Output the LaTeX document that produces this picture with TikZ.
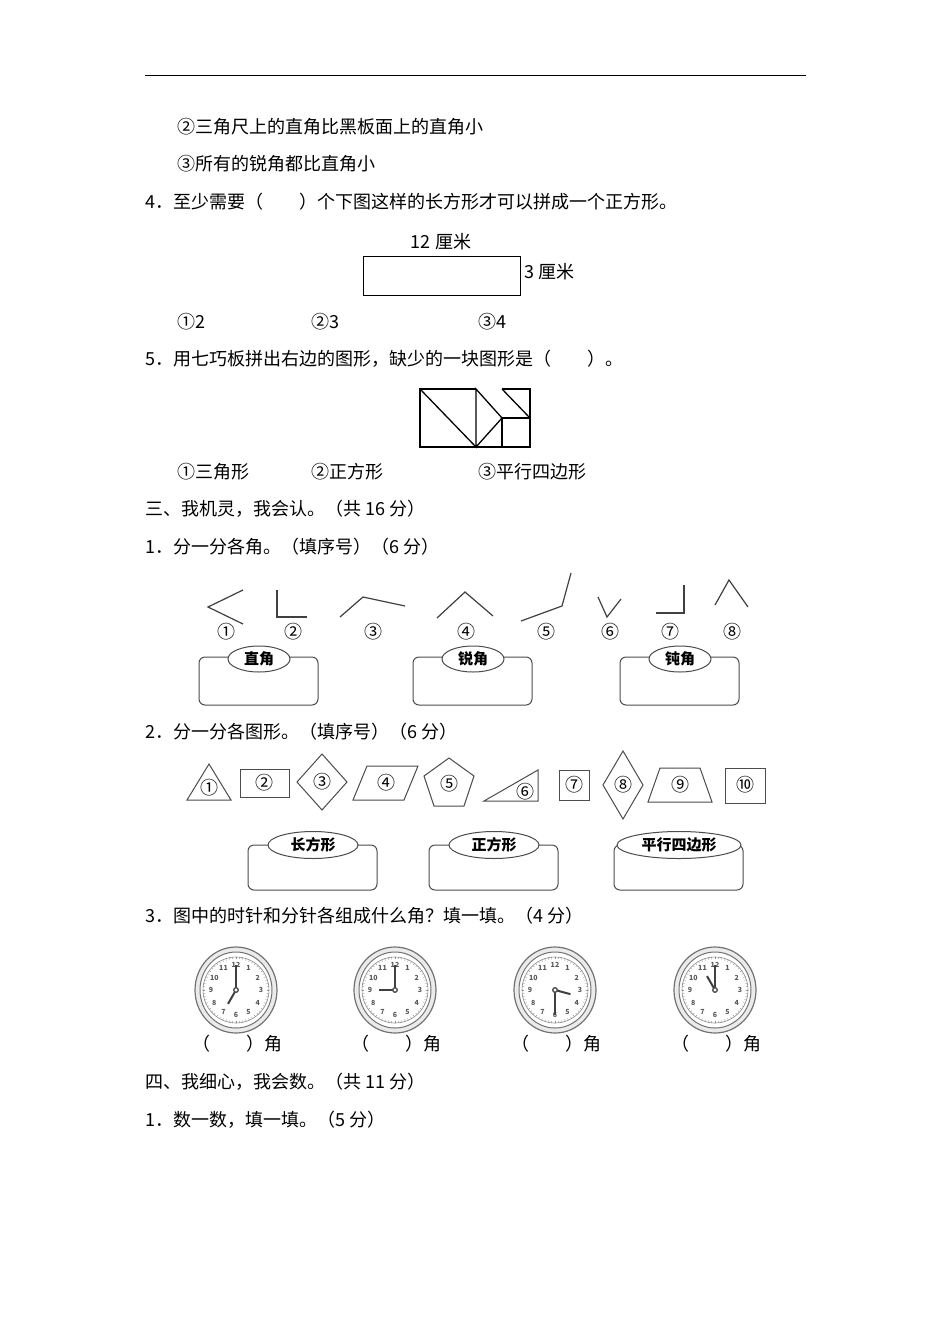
\documentclass[tikz,border=0pt]{standalone}
\usepackage{fontspec}
\setmainfont{Noto Sans CJK SC}
\usetikzlibrary{shapes.geometric}
\begin{document}
\begin{tikzpicture}[x=1pt,y=-1pt,
  txt/.style={anchor=west,inner sep=0pt,font=\fontsize{18}{20}\selectfont},
  lab/.style={inner sep=0pt,font=\fontsize{18}{20}\selectfont},
  ln/.style={draw=black!75,line width=1.2pt},
  shp/.style={draw=black!70,line width=1pt},
  pbox/.style={draw=black!70,line width=1pt,rounded corners=6pt,fill=white},
  oval/.style={draw=black!70,line width=1pt,ellipse,fill=white,inner sep=1pt,font=\fontsize{15}{17}\selectfont\bfseries}]
\useasboundingbox (0,0) rectangle (950,1344);
\fill[white] (0,0) rectangle (950,1344);
\draw[line width=1pt] (145,75) -- (806,75);
\node[txt] (l1) at (177,127) {②三角尺上的直角比黑板面上的直角小};
\node[txt] (l2) at (177,164) {③所有的锐角都比直角小};
\node[txt] (q4) at (145,202) {4．至少需要（\hspace{2em}）个下图这样的长方形才可以拼成一个正方形。};
\node[lab] (w12) at (441,242) {12 厘米};
\draw[line width=1pt] (363,256) rectangle (520,295);
\node[lab,anchor=west] (h3) at (524,272) {3 厘米};
\node[txt] (o1) at (177,322) {①2};
\node[txt] (o2) at (311,322) {②3};
\node[txt] (o3) at (478,322) {③4};
\node[txt] (q5) at (145,359) {5．用七巧板拼出右边的图形，缺少的一块图形是（\hspace{2em}）。};
% tangram
\draw[line width=1.3pt] (476,389) -- (420,389) -- (420,447) -- (530,447) -- (530,389) -- (502,389);
\draw[line width=1.3pt] (420,389) -- (476,447) -- (476,389) -- (502,418) -- (476,447);
\draw[line width=1.3pt] (502,447) -- (502,418) -- (530,418);
\draw[line width=1.3pt] (502,389) -- (530,418);
\node[txt] (p1) at (177,472) {①三角形};
\node[txt] (p2) at (311,472) {②正方形};
\node[txt] (p3) at (478,472) {③平行四边形};
\node[txt] (s3) at (145,509) {三、我机灵，我会认。（共 16 分）};
\node[txt] (s31) at (145,547) {1．分一分各角。（填序号）（6 分）};
% angles
\draw[ln] (243,590) -- (208,607) -- (243,624);
\draw[ln] (277,590) -- (277,617) -- (307,617);
\draw[ln] (340,617) -- (363,597) -- (405,606);
\draw[ln] (437,618) -- (465,592) -- (493,616);
\draw[ln] (521,621) -- (562,606) -- (571,573);
\draw[ln] (598,597) -- (607,617) -- (621,599);
\draw[ln] (656,613) -- (684,613) -- (684,585);
\draw[ln] (715,605) -- (729,580) -- (748,607);
\foreach \x/\t [count=\i] in {226/①,293/②,373/③,466/④,546/⑤,610/⑥,670/⑦,732/⑧}
  \node[lab] (a\i) at (\x,632) {\t};
\foreach \x/\t [count=\i] in {259/直角,473/锐角,680/钝角}{
  \draw[pbox] (\x-60,657) rectangle (\x+59,705);
  \node[oval,minimum width=62pt,minimum height=26pt] (b\i) at (\x,659) {\t};}
\node[txt] (s32) at (145,732) {2．分一分各图形。（填序号）（6 分）};
% shapes
\draw[shp] (187,800) -- (209,764) -- (231,800) -- cycle; \node[lab] (f1) at (209,788) {①};
\draw[shp] (240,769) rectangle (289,797); \node[lab] (f2) at (264,783) {②};
\draw[shp] (322,754) -- (347,782) -- (322,810) -- (297,782) -- cycle; \node[lab] (f3) at (322,782) {③};
\draw[shp] (353,800) -- (367,766) -- (418,766) -- (404,800) -- cycle; \node[lab] (f4) at (386,783) {④};
\draw[shp] (449,758) -- (474,776) -- (464,806) -- (434,806) -- (424,776) -- cycle; \node[lab] (f5) at (449,784) {⑤};
\draw[shp] (484,801) -- (538,770) -- (538,801) -- cycle; \node[lab] (f6) at (525,792) {⑥};
\draw[shp] (559,770) rectangle (589,800); \node[lab] (f7) at (574,785) {⑦};
\draw[shp] (623,751) -- (643,785) -- (623,819) -- (603,785) -- cycle; \node[lab] (f8) at (623,785) {⑧};
\draw[shp] (648,802) -- (660,768) -- (700,768) -- (712,802) -- cycle; \node[lab] (f9) at (680,785) {⑨};
\draw[shp] (725,768) rectangle (765,803); \node[lab] (f10) at (745,785) {⑩};
\foreach \x/\t/\w [count=\i] in {313/长方形/90,494/正方形/90,679/平行四边形/124}{
  \draw[pbox] (\x-65,845) rectangle (\x+64,890);
  \node[oval,minimum width=\w pt,minimum height=27pt] (g\i) at (\x,845) {\t};}
\node[txt] (s33) at (145,916) {3．图中的时针和分针各组成什么角？填一填。（4 分）};
% clocks
\foreach \cx/\hr/\mn [count=\i] in {236/210/0,395/270/0,555/105/180,715/330/0}{
  \begin{scope}[shift={(\cx,990)}]
  \draw[black!55,line width=1.2pt,fill=black!8] (0,0) ellipse (41pt and 43pt);
  \draw[black!55,line width=1pt,fill=white] (0,0) ellipse (36pt and 38pt);
  \draw[black!45,line width=0.6pt] (0,0) circle (33pt);
  \foreach \k in {0,...,59} \draw[black!45,line width=0.4pt] (\k*6:31pt) -- (\k*6:33pt);
  \foreach \n in {1,...,12} \node[inner sep=0pt,font=\fontsize{7}{7}\selectfont\bfseries,black!65] at ({90-\n*30}:25pt) {\n};
  \draw[black!75,line width=1.6pt] (0,0) -- ({90-\mn}:25pt);
  \draw[black!75,line width=2pt] (0,0) -- ({90-\hr}:16pt);
  \fill[black!70] (0,0) circle (3pt);
  \fill[white] (0,0) circle (1.6pt);
  \end{scope}
  \node[lab,anchor=west] (c\i) at (\cx-44,1044) {（\hspace{2em}）角};}
\node[txt] (s4) at (145,1082) {四、我细心，我会数。（共 11 分）};
\node[txt] (s41) at (145,1120) {1．数一数，填一填。（5 分）};
\end{tikzpicture}
\end{document}
